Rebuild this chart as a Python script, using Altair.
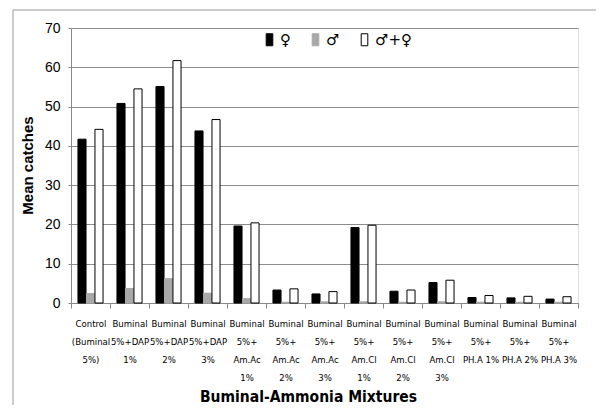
import altair as alt
import pandas as pd

categories = [
    "Control|(Buminal|5%)",
    "Buminal|5%+DAP|1%",
    "Buminal|5%+DAP|2%",
    "Buminal|5%+DAP|3%",
    "Buminal|5%+|Am.Ac|1%",
    "Buminal|5%+|Am.Ac|2%",
    "Buminal|5%+|Am.Ac|3%",
    "Buminal|5%+|Am.Cl|1%",
    "Buminal|5%+|Am.Cl|2%",
    "Buminal|5%+|Am.Cl|3%",
    "Buminal|5%+|PH.A 1%",
    "Buminal|5%+|PH.A 2%",
    "Buminal|5%+|PH.A 3%",
]
series = ["\u2640", "\u2642", "\u2642+\u2640"]
female = [41.7, 50.8, 55.1, 43.8, 19.6, 3.3, 2.3, 19.2, 3.0, 5.2, 1.4, 1.3, 1.0]
male = [2.4, 3.7, 6.2, 2.5, 1.1, 0.2, 0.3, 0.3, 0.2, 0.3, 0.2, 0.2, 0.2]
total = [44.2, 54.5, 61.7, 46.7, 20.4, 3.6, 2.9, 19.8, 3.3, 5.8, 1.9, 1.7, 1.6]

rows = []
for i, c in enumerate(categories):
    for s, vals in zip(series, [female, male, total]):
        rows.append({"cat": c, "sex": s, "val": vals[i]})
df = pd.DataFrame(rows)

W, H = 507, 275
COND = "DejaVu Sans Condensed, Liberation Sans"

leg = dict(title=None, orient="none", legendX=191, legendY=4,
           direction="horizontal",
           symbolType="M-0.55,-1H0.55V1H-0.55Z",
           symbolSize=144, symbolStrokeWidth=1,
           labelFont="DejaVu Sans", labelFontSize=15,
           labelColor="#000", labelOffset=3,
           columnPadding=17, padding=0)

bars = alt.Chart(df).mark_bar(strokeWidth=1).encode(
    x=alt.X("cat:N", sort=categories, title="Buminal-Ammonia Mixtures",
            scale=alt.Scale(paddingInner=0, paddingOuter=0),
            axis=alt.Axis(labelExpr="split(datum.label, '|')", labelAngle=0,
                          labelFont=COND, labelFontSize=9.5,
                          labelColor="#000", labelLineHeight=18,
                          labelPadding=10, tickSize=5, tickBand="extent",
                          tickColor="#888", domainColor="#888",
                          titleFont=COND, titleFontSize=15.5,
                          titleFontWeight="bold", titleColor="#000",
                          titleX=237, titleY=93, titleBaseline="middle",
                          labelBaseline="top")),
    xOffset=alt.XOffset("sex:N", sort=series,
                        scale=alt.Scale(paddingInner=0.05, paddingOuter=0.82)),
    y=alt.Y("val:Q", title="Mean catches",
            scale=alt.Scale(domain=[0, 70]),
            axis=alt.Axis(values=list(range(0, 71, 10)), grid=True,
                          gridColor="#8c8c8c", gridWidth=1,
                          domainColor="#888", tickColor="#888", tickSize=3,
                          labelFont="Liberation Sans", labelFontSize=14,
                          labelColor="#000", labelPadding=8,
                          titleFont="Liberation Sans", titleFontSize=15,
                          titleFontWeight="bold", titleColor="#000",
                          titleX=-36, titleY=137)),
    fill=alt.Fill("sex:N", sort=series,
                  scale=alt.Scale(domain=series, range=["#000000", "#a8a8a8", "#ffffff"]),
                  legend=alt.Legend(**leg)),
    stroke=alt.Stroke("sex:N", sort=series,
                      scale=alt.Scale(domain=series, range=["#000000", "#a8a8a8", "#000000"]),
                      legend=alt.Legend(**leg)),
)

frame_df = pd.DataFrame({"a": [0]})
top_line = alt.Chart(frame_df).mark_rule(color="#999", strokeWidth=1).encode(
    x=alt.value(-58), x2=alt.value(526), y=alt.value(-18))
left_line = alt.Chart(frame_df).mark_rule(color="#999", strokeWidth=1).encode(
    x=alt.value(-58), y=alt.value(-18), y2=alt.value(382))

chart = alt.layer(bars, top_line, left_line).properties(
    width=W, height=H,
    autosize=alt.AutoSizeParams(type="none"),
    padding={"left": 63, "top": 20, "right": 18, "bottom": 102},
).configure_view(stroke=None).configure(background="white")

chart.save("out.html", embed_options={"renderer": "svg", "actions": False})
